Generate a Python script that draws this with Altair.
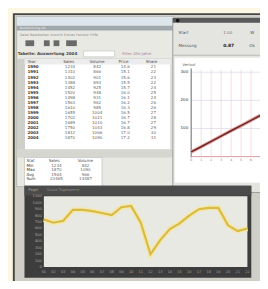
import altair as alt
import pandas as pd

# ---------------- data ----------------
# bottom (yellow) line chart
periods = [f"{i:02d}" for i in range(1, 23)]
level = [740, 690, 720, 890, 890, 870, 840, 810, 930, 950, 690,
         200, 420, 590, 680, 800, 900, 920, 920, 650, 560, 600]
level_ticks = list(range(0, 1200, 100))

# right (red) trend chart
trend_x = [0, 1, 2, 3, 4, 5, 6, 7, 8, 9]
trend_y = [17, 35, 54, 73, 92, 110, 129, 148, 166, 185]
trend_ticks_y = [100, 200, 300]
trend_grid_x = [0, 1, 2, 3, 4, 5, 6, 7, 8, 9]
trend_labels_x = [0, 1, 2, 3, 4, 5, 6]

# main table
headers = ["Year", "Sales", "Volume", "Price", "Share"]
row_labels = ["1990", "1991", "1992", "1993", "1994", "1995", "1996", "1997",
              "1998", "1999", "2000", "2001", "2002", "2003", "2004"]
col_sales = ["1234", "1310", "1402", "1388", "1452", "1520", "1498", "1563",
             "1610", "1655", "1702", "1689", "1750", "1812", "1870"]
col_volume = ["842", "866", "901", "893", "925", "948", "931", "962",
              "985", "1004", "1021", "1010", "1043", "1066", "1090"]
col_price = ["14.6", "15.1", "15.6", "15.5", "15.7", "16.0", "16.1", "16.2",
             "16.3", "16.5", "16.7", "16.7", "16.8", "17.0", "17.2"]
col_share = ["21", "22", "23", "22", "24", "25", "24", "26",
             "26", "27", "28", "27", "29", "30", "31"]

# summary table
sum_headers = ["Stat", "Sales", "Volume"]
sum_labels = ["Min", "Max", "Avg", "Sum"]
sum_sales = ["1234", "1870", "1564", "23465"]
sum_volume = ["842", "1090", "966", "14487"]

FONT = "DejaVu Sans"
ONE = pd.DataFrame({"k": [0]})


def box(x, x2, y, y2, fill, stroke=None, sw=0.0):
    kw = dict(fill=fill, strokeWidth=sw)
    if stroke:
        kw["stroke"] = stroke
    return alt.Chart(ONE).mark_rect(**kw).encode(
        x=alt.value(x), x2=alt.value(x2), y=alt.value(y), y2=alt.value(y2))


def label(x, y, text, size=4.5, color="#555555", align="left", weight="normal"):
    return alt.Chart(ONE).mark_text(
        text=text, fontSize=size, color=color, align=align, baseline="middle",
        fontWeight=weight, font=FONT).encode(x=alt.value(x), y=alt.value(y))


layers = []

# ---------------- outer window ----------------
layers.append(box(6, 262, 2, 280, "#cfcfc8", "#474747", 2))

# ---------------- left window (table) ----------------
layers.append(box(9, 172, 5, 180, "#e9e9e4", "#9a9a9a", 0.6))
layers.append(box(9, 172, 5, 14, "#dde6ec"))
layers.append(box(9, 172, 14, 19, "#a2a9ad"))
layers.append(label(12, 16.5, "Auswertung.xls", 3.5, "#e8e8e8"))
layers.append(label(12, 24, "Datei  Bearbeiten  Ansicht  Extras  Fenster  Hilfe", 3.6, "#8c8c8c"))
for x0, x1 in [(18, 27), (37, 43), (47, 53), (60, 71)]:
    layers.append(box(x0, x1, 29, 35, "#6a6a6a"))
layers.append(label(10, 43, "Tabelle: Auswertung 2004", 4.2, "#444444", weight="bold"))
layers.append(box(78, 110, 40, 46, "#ffffff", "#b0b0b0", 0.5))
layers.append(label(118, 43, "Filter  Alle  Jahre", 4.0, "#b07aa0"))

# main table body
layers.append(box(17, 168, 48, 142, "#ffffff", "#a8a8a8", 0.5))
layers.append(box(9, 17, 48, 142, "#cfcfca"))
layers.append(box(17, 168, 48, 54, "#ececec"))
hdr_x = [20, 57, 84, 114, 142]
for hx, h in zip(hdr_x, headers):
    layers.append(label(hx, 51, h, 4.2, "#505050"))
layers.append(box(9, 172, 142, 150, "#d6d6d0"))

tbl = pd.DataFrame({
    "row": list(range(len(row_labels))),
    "label": row_labels, "sales": col_sales, "volume": col_volume,
    "price": col_price, "share": col_share,
})
ty = alt.Y("row:Q", scale=alt.Scale(domain=[0, 14], range=[57, 130]), axis=None)
for field, cx, col, wt in [("label", 20, "#3a3a3a", "bold"), ("sales", 64, "#666666", "normal"),
                           ("volume", 92, "#666666", "normal"), ("price", 121, "#666666", "normal"),
                           ("share", 150, "#666666", "normal")]:
    layers.append(alt.Chart(tbl).mark_text(
        fontSize=4.2, color=col, align="center" if field != "label" else "left",
        baseline="middle", font=FONT, fontWeight=wt).encode(
        x=alt.value(cx), y=ty, text=f"{field}:N"))

# summary table
layers.append(box(17, 97, 150, 180, "#ffffff", "#a8a8a8", 0.5))
for hx, h in zip([19, 42, 72], sum_headers):
    layers.append(label(hx, 154, h, 4.2, "#505050"))
stbl = pd.DataFrame({"row": list(range(4)), "label": sum_labels,
                     "sales": sum_sales, "volume": sum_volume})
sy = alt.Y("row:Q", scale=alt.Scale(domain=[0, 3], range=[158.5, 172.5]), axis=None)
for field, cx, col in [("label", 19, "#3a3a3a"), ("sales", 50, "#666666"), ("volume", 80, "#666666")]:
    layers.append(alt.Chart(stbl).mark_text(
        fontSize=4.2, color=col, align="center" if field != "label" else "left",
        baseline="middle", font=FONT).encode(x=alt.value(cx), y=sy, text=f"{field}:N"))

# ---------------- right window (trend chart) ----------------
layers.append(box(170, 262, 6, 186, "#e4e4e0", "#8a8a8a", 0.8))
layers.append(box(170, 262, 6, 11, "#595959"))
layers.append(alt.Chart(ONE).mark_circle(color="#111111", size=14, opacity=1).encode(
    x=alt.value(175), y=alt.value(8.5)))
layers.append(label(176, 22, "Start", 4.2, "#555555"))
layers.append(label(222, 22, "1.00", 4.2, "#777777"))
layers.append(label(250, 22, "W", 4.2, "#555555"))
layers.append(label(176, 35, "Messung", 4.2, "#555555"))
layers.append(label(222, 35, "0.87", 4.6, "#222222", weight="bold"))
layers.append(label(249, 35, "Ok", 4.2, "#555555"))
layers.append(box(170, 262, 44, 45, "#b9b9b9"))
layers.append(box(172, 262, 47, 176, "#ffffff"))
layers.append(label(180, 54, "Verlauf", 3.8, "#666666"))

txs = alt.X("t:Q", scale=alt.Scale(domain=[0, 10], range=[189, 292]), axis=None)
tys = alt.Y("v:Q", scale=alt.Scale(domain=[0, 310], range=[149, 59]), axis=None)
gx = pd.DataFrame({"t": trend_grid_x})
gxl = pd.DataFrame({"t": trend_labels_x})
gy = pd.DataFrame({"v": trend_ticks_y})
layers.append(alt.Chart(gx).mark_rule(color="#efcfd2", strokeWidth=0.7).encode(
    x=txs, y=alt.value(59), y2=alt.value(149)))
layers.append(alt.Chart(gy).mark_rule(color="#d9d3e6", strokeWidth=0.7).encode(
    y=tys, x=alt.value(189), x2=alt.value(262)))
layers.append(alt.Chart(ONE).mark_rule(color="#6f6f6f", strokeWidth=1).encode(
    x=alt.value(189), y=alt.value(58), y2=alt.value(150)))
layers.append(alt.Chart(ONE).mark_rule(color="#d69aa0", strokeWidth=1).encode(
    y=alt.value(149), x=alt.value(189), x2=alt.value(262)))
layers.append(alt.Chart(gy).mark_text(fontSize=4.2, color="#333333", align="right",
                                      baseline="middle", font=FONT).encode(
    y=tys, x=alt.value(186), text="v:Q"))
layers.append(alt.Chart(gxl).mark_text(fontSize=3.2, color="#777777", align="center",
                                       baseline="middle", font=FONT).encode(
    x=txs, y=alt.value(153), text="t:Q"))
tdf = pd.DataFrame({"t": trend_x, "v": trend_y})
layers.append(alt.Chart(tdf).mark_line(color="#e2a3a3", strokeWidth=3.6).encode(txs, tys))
layers.append(alt.Chart(tdf).mark_line(color="#6e2424", strokeWidth=1.6).encode(txs, tys))

# ---------------- bottom window (level chart) ----------------
layers.append(box(17, 251, 179, 274, "#3d3d3d"))
layers.append(box(17, 251, 179, 189, "#4b4b4b"))
layers.append(label(21, 183, "Pegel", 3.8, "#a0a0a0"))
layers.append(label(40, 183, "Stand  Tageswerte", 3.8, "#8a8a8a"))
layers.append(box(37, 247, 190, 263, "#e9e9e4"))

lx = alt.X("period:O", sort=None, scale=alt.Scale(type="point", range=[37, 247], padding=0), axis=None)
ly = alt.Y("level:Q", scale=alt.Scale(domain=[0, 1100], range=[263, 190]), axis=None)
ldf = pd.DataFrame({"period": periods, "level": level})
ticks_df = pd.DataFrame({"level": level_ticks})
layers.append(alt.Chart(ticks_df).mark_text(fontSize=3.8, color="#a5a5a5", align="right",
                                            baseline="middle", font=FONT).encode(
    y=ly, x=alt.value(35), text="level:Q"))
layers.append(alt.Chart(ldf).mark_text(fontSize=3.6, color="#a5a5a5", align="center",
                                       baseline="middle", font=FONT).encode(
    x=lx, y=alt.value(268), text="period:N"))
layers.append(alt.Chart(ldf).mark_line(color="#f4e7a6", strokeWidth=5.5, opacity=0.9).encode(lx, ly))
layers.append(alt.Chart(ldf).mark_line(color="#d8bb45", strokeWidth=2.2).encode(lx, ly))

chart = alt.layer(*layers).resolve_scale(
    x="independent", y="independent"
).properties(
    width=260, height=273, padding=0, autosize="none", background="#fbf7e2"
).configure_view(stroke=None)

chart.save("out.html", embed_options={"renderer": "svg", "actions": False})
